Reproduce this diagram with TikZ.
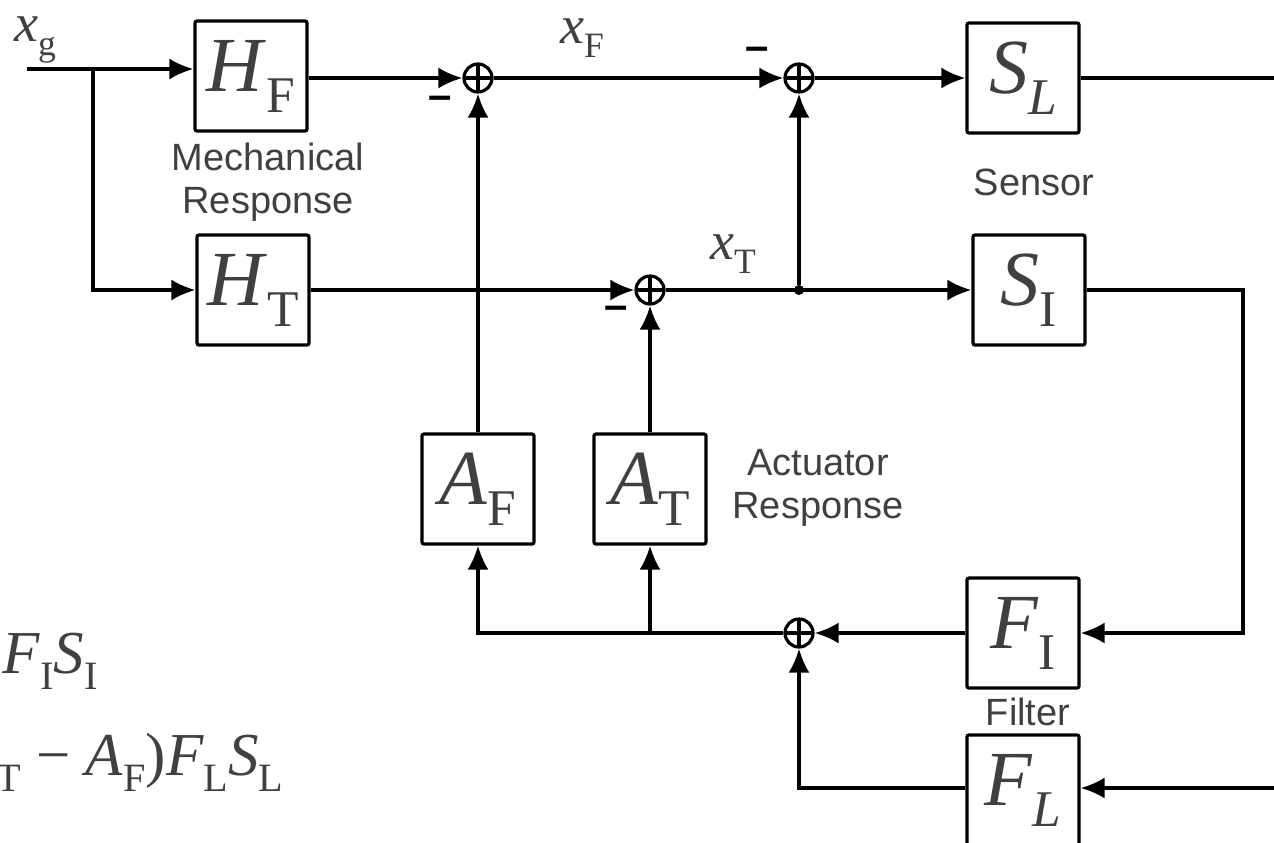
\documentclass[tikz,border=0pt]{standalone}
\usepackage{fontspec}
\setmainfont{Liberation Serif}
\newfontfamily\labelsf{Liberation Sans}
\usetikzlibrary{arrows.meta,positioning,calc}
\definecolor{tgrey}{HTML}{404040}
\newcommand\blkfont{\fontsize{39}{44}\selectfont}
\newcommand\sigfont{\fontsize{27}{30}\selectfont}
\newcommand\eqfont{\fontsize{30.5}{36}\selectfont}
\newcommand\capfont{\labelsf\fontsize{19}{21.5}\selectfont}
\newcommand\negfont{\labelsf\bfseries\fontsize{21}{24}\selectfont}
% letter with a lowered, smaller index
\newcommand\tf[2]{\textit{#1}\raisebox{-0.27em}{\scalebox{0.66}{#2}}}
\tikzset{
  >={Latex[length=12pt,width=10.5pt]},
  wire/.style={line width=1.6pt,draw=black},
  arr/.style={wire,->},
  blk/.style={draw=black,line width=1.6pt,rounded corners=1pt,minimum width=56pt,minimum height=55pt,inner sep=0pt,text=tgrey,font=\blkfont},
  sumpt/.style={circle,draw=black,line width=1.6pt,minimum size=14pt,inner sep=0pt,
    path picture={\draw[line width=1.6pt] (path picture bounding box.north)--(path picture bounding box.south)
      (path picture bounding box.east)--(path picture bounding box.west);}},
  sig/.style={text=tgrey,font=\sigfont,inner sep=0pt},
  eqn/.style={text=tgrey,font=\eqfont,inner sep=0pt},
  caption/.style={text=tgrey,font=\capfont,align=center,inner sep=0pt},
  neg/.style={font=\negfont,inner sep=0pt},
  joint/.style={circle,fill=black,inner sep=0pt,minimum size=5pt}
}
\begin{document}
\begin{tikzpicture}[x=0.5pt,y=-0.5pt]
  \useasboundingbox (0,0) rectangle (1274,842);
  \clip (0,0) rectangle (1274,842);

  % blocks
  \node[blk] (HF) at (251,76) {\tf{H}{F}};
  \node[blk] (HT) at (253,290) {\tf{H}{T}};
  \node[blk] (SL) at (1023,78) {\tf{S}{\itshape L}};
  \node[blk] (SI) at (1029,290) {\tf{S}{I}};
  \node[blk] (AF) at (478,489) {\tf{A}{F}};
  \node[blk] (AT) at (650,489) {\tf{A}{T}};
  \node[blk] (FI) at (1023,633) {\tf{F}{I}};
  \node[blk] (FL) at (1023,790) {\tf{F}{\itshape L}};

  % summing points
  \node[sumpt] (s1) at (478,78) {};
  \node[sumpt] (s2) at (799,78) {};
  \node[sumpt] (s3) at (650,290) {};
  \node[sumpt] (s4) at (799,633) {};
  \node[joint] (jT) at (799,290) {};

  \coordinate (in) at (27,69);
  \coordinate (br) at (93,69);
  \coordinate (outL) at (1274,78);
  \coordinate (rt) at (1243,633);
  \coordinate (inL) at (1274,788);

  % signals
  \node[sig] (xg) at (35,40) {\tf{x}{g}};
  \node[sig] (xF) at (582,38) {\tf{x}{F}};
  \node[sig] (xT) at (733,254) {\tf{x}{T}};
  \node[neg] (m1) at (440,103) {–};
  \node[neg] (m2) at (757,54) {–};
  \node[neg] (m3) at (616,313) {–};

  % captions
  \node[caption] (mech) at (268,182) {Mechanical\\Response};
  \node[caption] (sens) at (1034,182) {Sensor};
  \node[caption] (act) at (818,488) {Actuator\\Response};
  \node[caption] (filt) at (1028,712) {Filter};

  % equations
  \node[eqn,anchor=base west] (eqI) at (2,673) {\tf{F}{I}\tf{S}{I}};
  \node[eqn,anchor=base west] (eqL) at (-4,775) {\raisebox{-0.27em}{\scalebox{0.66}{T}} − \tf{A}{F})\tf{F}{L}\tf{S}{L}};

  % connections
  \draw[arr] (in) -- (in -| HF.west);
  \draw[arr] (br) |- (HT.west);
  \draw[arr] (HF.east |- s1) -- (s1);
  \draw[arr] (s1) -- (s2);
  \draw[arr] (s2) -- (SL);
  \draw[wire] (SL.east |- outL) -- (outL);
  \draw[arr] (HT) -- (s3);
  \draw[arr] (s3) -- (SI);
  \draw[arr] (jT) -- (s2);
  \draw[arr] (SI.east) -| (rt) -- (FI.east);
  \draw[arr] (FI) -- (s4);
  \draw[arr] (s4) -| (AF.south);
  \draw[arr] (AT.south |- s4) -- (AT.south);
  \draw[arr] (AF) -- (s1);
  \draw[arr] (AT) -- (s3);
  \draw[arr] (inL) -- (inL -| FL.east);
  \draw[arr] (FL.west |- inL) -| (s4);
\end{tikzpicture}
\end{document}
